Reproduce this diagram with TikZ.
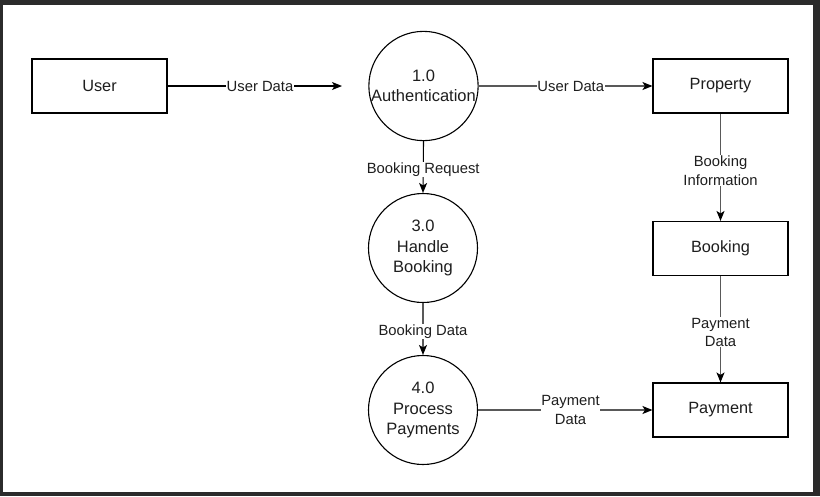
\documentclass[tikz,border=0pt]{standalone}
\usepackage{fontspec}
\setmainfont{Liberation Sans}
\usetikzlibrary{arrows.meta}
\definecolor{frame}{HTML}{2B2B2B}
\definecolor{txt}{HTML}{1E1E1E}
\begin{document}
\begin{tikzpicture}[x=1pt,y=-1pt,
  entity/.style={draw=black,line width=1.1pt,minimum width=135pt,minimum height=54pt,inner sep=0pt,text=txt,font=\fontsize{16.3}{20}\selectfont},
  proc/.style={draw=black,line width=1.1pt,circle,minimum size=109pt,inner sep=0pt,align=center,text=txt,font=\fontsize{16.5}{20.5}\selectfont},
  flow/.style={draw=black,line width=1.1pt,-{Stealth[length=10pt,width=8pt,inset=2.5pt,color=black]}},
  grayflow/.style={flow,draw=black!65},
  lbl/.style={fill=white,inner sep=0.6pt,text=txt,align=center,font=\fontsize{14.8}{18.5}\selectfont}
]
\useasboundingbox (0,0) rectangle (820,496);
\fill[frame] (0,0) rectangle (820,496);
\fill[white] (3,5) rectangle (813,492);

\node[entity] (user) at (99.5,86) {User};
\node[entity] (property) at (720.5,86) {Property};
\node[entity] (booking) at (720.5,248.5) {Booking};
\node[entity] (payment) at (720.5,410) {Payment};

\node[proc] (auth) at (423.5,86) {1.0\\Authentication};
\node[proc] (handle) at (423,248) {3.0\\Handle\\Booking};
\node[proc] (process) at (423,410) {4.0\\Process\\Payments};

\coordinate (uend) at (342,86);

\draw[flow] (user.east) -- node[lbl,pos=0.53] {User Data} (uend);
\draw[grayflow] (auth.east) -- node[lbl,pos=0.53] {User Data} (property.west);
\draw[flow] (auth.south) -- node[lbl,pos=0.55] {Booking Request} (handle.north);
\draw[grayflow] (handle.south) -- node[lbl,pos=0.55] {Booking Data} (process.north);
\draw[grayflow] (process.east) -- node[lbl,pos=0.53] {Payment\\Data} (payment.west);
\draw[grayflow] (property.south) -- node[lbl,pos=0.53] {Booking\\Information} (booking.north);
\draw[grayflow] (booking.south) -- node[lbl,pos=0.53] {Payment\\Data} (payment.north);
\end{tikzpicture}
\end{document}
